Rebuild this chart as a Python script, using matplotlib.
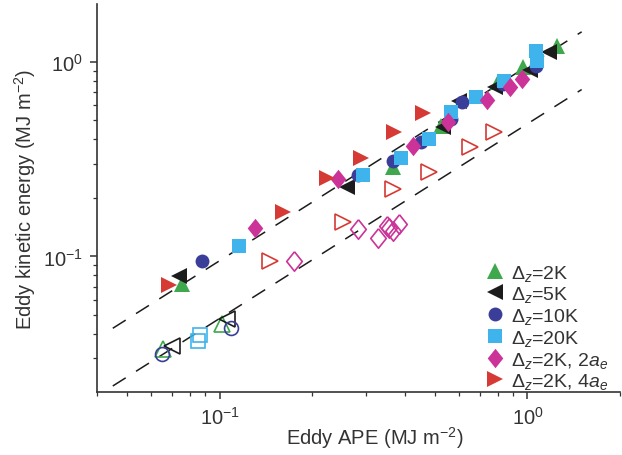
import matplotlib
matplotlib.use("Agg")
from matplotlib import pyplot as plt
import numpy as np

plt.rcParams['font.family'] = ['Liberation Sans', 'DejaVu Sans']
plt.rcParams['mathtext.fontset'] = 'custom'
plt.rcParams['mathtext.rm'] = 'Liberation Sans'
plt.rcParams['mathtext.it'] = 'Liberation Sans:italic'
plt.rcParams['mathtext.bf'] = 'Liberation Sans:bold'

TEXT = '#333333'

# filled markers (upper line)
ape_2k = [0.0757, 0.367, 0.524, 0.804, 0.970, 1.245]
eke_2k = [0.072, 0.287, 0.468, 0.787, 0.939, 1.205]
ape_5k = [0.074, 0.260, 0.531, 0.600, 0.786, 1.016, 1.172]
eke_5k = [0.0798, 0.227, 0.462, 0.628, 0.741, 0.906, 1.121]
ape_10k = [0.088, 0.282, 0.367, 0.451, 0.565, 0.614, 0.836, 1.069]
eke_10k = [0.0944, 0.261, 0.308, 0.386, 0.507, 0.621, 0.768, 0.950]
ape_20k = [0.116, 0.293, 0.387, 0.479, 0.565, 0.681, 0.841, 1.069, 1.075]
eke_20k = [0.1128, 0.261, 0.320, 0.401, 0.552, 0.659, 0.796, 1.135, 1.01]
ape_2a = [0.130, 0.243, 0.424, 0.552, 0.740, 0.880, 0.963]
eke_2a = [0.1396, 0.249, 0.369, 0.491, 0.636, 0.741, 0.814]
ape_4a = [0.0687, 0.1606, 0.224, 0.287, 0.368, 0.457]
eke_4a = [0.0712, 0.169, 0.252, 0.320, 0.435, 0.545]

# open markers (lower line)
ape_2k_o = [0.0656, 0.1016]
eke_2k_o = [0.0333, 0.0449]
ape_5k_o = [0.0702, 0.1054]
eke_5k_o = [0.0345, 0.0476]
ape_10k_o = [0.0652, 0.1086]
eke_10k_o = [0.0314, 0.0428]
ape_20k_o = [0.0853, 0.0867]
eke_20k_o = [0.0366, 0.0394]
ape_2a_o = [0.1746, 0.282, 0.326, 0.349, 0.356, 0.365, 0.382]
eke_2a_o = [0.0944, 0.138, 0.125, 0.143, 0.140, 0.135, 0.146]
ape_4a_o = [0.1456, 0.251, 0.365, 0.479, 0.651, 0.780]
eke_4a_o = [0.0944, 0.150, 0.222, 0.271, 0.364, 0.435]

# dashed reference lines: eke = k * ape
line_x = [0.045, 1.5]
k_upper = 0.95
k_lower = 0.48

diamond = [(0, 1), (0.8, 0), (0, -1), (-0.8, 0), (0, 1)]

series = [
    (ape_2k, eke_2k, ape_2k_o, eke_2k_o, '^', 11, '#3fa84c', r'$\Delta_z$=2K'),
    (ape_5k, eke_5k, ape_5k_o, eke_5k_o, '<', 11, '#1c1c1c', r'$\Delta_z$=5K'),
    (ape_10k, eke_10k, ape_10k_o, eke_10k_o, 'o', 10, '#3b3e98', r'$\Delta_z$=10K'),
    (ape_20k, eke_20k, ape_20k_o, eke_20k_o, 's', 9.5, '#3fb3ec', r'$\Delta_z$=20K'),
    (ape_2a, eke_2a, ape_2a_o, eke_2a_o, diamond, 14, '#cc3399', r'$\Delta_z$=2K, 2$a_e$'),
    (ape_4a, eke_4a, ape_4a_o, eke_4a_o, '>', 11, '#d63a34', r'$\Delta_z$=2K, 4$a_e$'),
]

fig = plt.figure(figsize=(6.22, 4.56), dpi=100)
ax = fig.add_axes([0.156, 0.138, 0.841, 0.851])

lx = np.array(line_x)
ax.plot(lx, k_upper * lx, color='#1c1c1c', lw=1.1, linestyle=(0, (10, 8)))
ax.plot(lx, k_lower * lx, color='#1c1c1c', lw=1.1, linestyle=(0, (10, 8)))

handles = []
for x, y, xo, yo, m, ms, c, lab in series:
    h, = ax.plot(x, y, linestyle='none', marker=m, color=c, markersize=ms,
                 markeredgewidth=0, label=lab)
    ax.plot(xo, yo, linestyle='none', marker=m, markerfacecolor='none',
            markeredgecolor=c, markersize=ms, markeredgewidth=1.2)
    handles.append(h)

ax.set_xscale('log')
ax.set_yscale('log')
ax.set_xlim(0.04, 2.0)
ax.set_ylim(0.0201, 1.98)

for s in ['top', 'right']:
    ax.spines[s].set_visible(False)
for s in ['left', 'bottom']:
    ax.spines[s].set_linewidth(1.2)
    ax.spines[s].set_color('#333333')

ax.tick_params(which='major', length=5, width=1.1, colors='#333333',
               labelsize=14.5, labelcolor=TEXT, pad=5)
ax.tick_params(which='minor', length=3, width=0.9, colors='#333333')

ax.set_xlabel('Eddy APE (MJ m$^{-2}$)', fontsize=14.5, color=TEXT)
ax.xaxis.set_label_coords(0.53, -0.083)
ax.set_ylabel('Eddy kinetic energy (MJ m$^{-2}$)', fontsize=14.5, color=TEXT, labelpad=4)

leg = ax.legend(handles=handles, loc='lower right', frameon=False, fontsize=14,
                handletextpad=0.35, labelspacing=0.09, borderaxespad=0.2,
                handlelength=1.0, bbox_to_anchor=(1.0, -0.028))
for t in leg.get_texts():
    t.set_color(TEXT)

fig.savefig('out.png', dpi=100)
